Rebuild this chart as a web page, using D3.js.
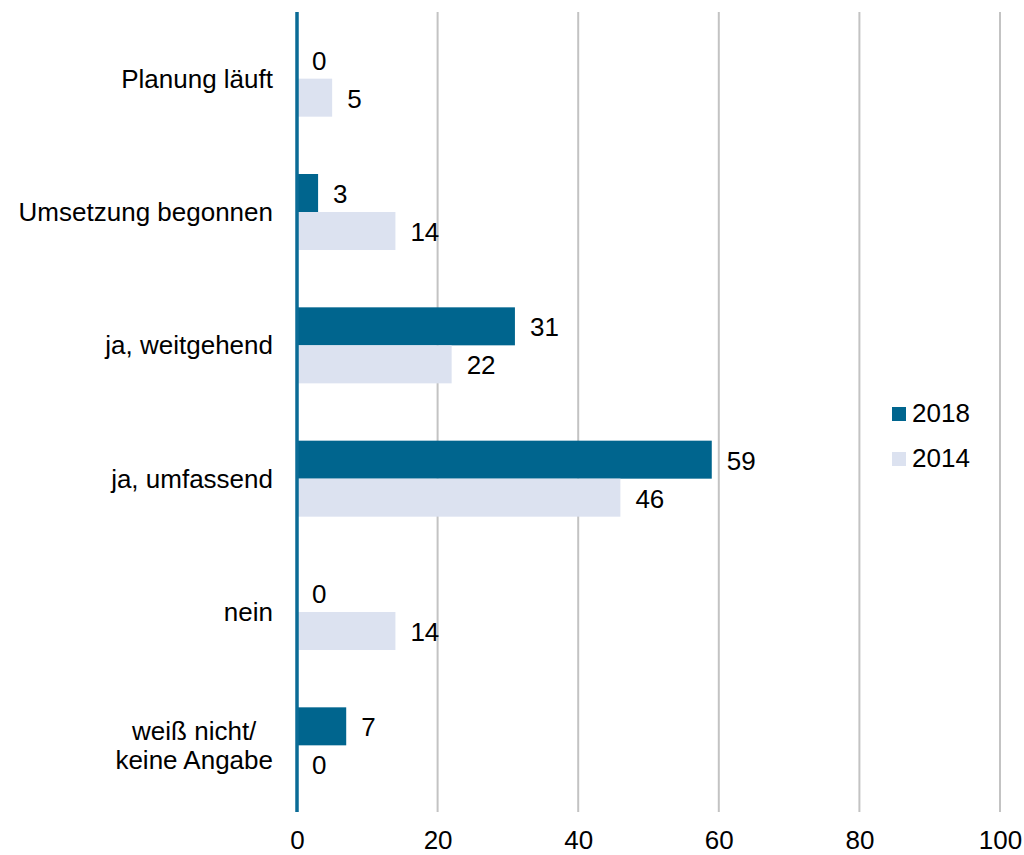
<!DOCTYPE html>
<html>
<head>
<meta charset="utf-8">
<script src="https://cdn.jsdelivr.net/npm/d3@7"></script>
<style>
  html, body { margin: 0; padding: 0; background: #fff; }
  svg { display: block; font-family: "Liberation Sans", Arial, sans-serif; }
</style>
</head>
<body>
<svg id="chart" width="1024" height="855"></svg>
<script>
// Categories, top to bottom
const categories = [
  "Planung läuft",
  "Umsetzung begonnen",
  "ja, weitgehend",
  "ja, umfassend",
  "nein",
  "weiß nicht/\nkeine Angabe"
];
const seriesNames = ["2018", "2014"];
const values2018 = [0, 3, 31, 59, 0, 7];
const values2014 = [5, 14, 22, 46, 14, 0];
const xTicks = [0, 20, 40, 60, 80, 100];

const colors = { "2018": "#00658e", "2014": "#dce2f0" };
const fontSize = 26;

const svg = d3.select("#chart");
const plotTop = 12, plotBottom = 812;

const x = d3.scaleLinear().domain([0, 100]).range([297, 1000]);
const y = d3.scaleBand().domain(categories).range([plotTop, plotBottom])
  .paddingInner(0.43).paddingOuter(0.215);
const ySub = d3.scaleBand().domain(seriesNames).range([0, y.bandwidth()]);

// vertical gridlines
svg.append("g").selectAll("line")
  .data(xTicks.filter(d => d > 0))
  .join("line")
  .attr("x1", d => x(d)).attr("x2", d => x(d))
  .attr("y1", plotTop).attr("y2", plotBottom)
  .attr("stroke", "#c3c3c3").attr("stroke-width", 2);

// x tick labels
const xAxis = d3.axisBottom(x).tickValues(xTicks).tickSize(0).tickPadding(0);
const gx = svg.append("g").attr("transform", `translate(0, ${plotBottom})`).call(xAxis);
gx.select(".domain").remove();
gx.attr("font-size", fontSize).attr("font-family", "Liberation Sans, Arial, sans-serif");
gx.selectAll("text")
  .attr("fill", "#000")
  .attr("dy", null).attr("y", 37);

// bars
const rows = categories.map((c, i) => ({
  cat: c,
  vals: [{ s: "2018", v: values2018[i] }, { s: "2014", v: values2014[i] }]
}));

const groups = svg.append("g").selectAll("g")
  .data(rows).join("g")
  .attr("transform", d => `translate(0, ${y(d.cat)})`);

groups.selectAll("rect")
  .data(d => d.vals.filter(e => e.v > 0))
  .join("rect")
  .attr("x", x(0))
  .attr("y", d => ySub(d.s))
  .attr("width", d => x(d.v) - x(0))
  .attr("height", ySub.bandwidth())
  .attr("fill", d => colors[d.s]);

groups.selectAll("text.val")
  .data(d => d.vals)
  .join("text")
  .attr("class", "val")
  .attr("x", d => x(d.v) + 15)
  .attr("y", d => ySub(d.s) + ySub.bandwidth() / 2 + 10)
  .attr("font-size", fontSize)
  .attr("fill", "#000")
  .text(d => d.v);

// category labels
const catG = svg.append("g");
categories.forEach(c => {
  const lines = c.split("\n");
  const cy = y(c) + y.bandwidth() / 2;
  if (lines.length === 1) {
    catG.append("text")
      .attr("x", 273).attr("y", cy + 9)
      .attr("text-anchor", "end")
      .attr("font-size", fontSize).attr("fill", "#000")
      .text(c);
  } else {
    const t = catG.append("text")
      .attr("font-size", fontSize).attr("fill", "#000")
      .attr("text-anchor", "middle");
    const lineH = 29;
    lines.forEach((ln, i) => {
      t.append("tspan")
        .attr("x", 0)
        .attr("y", cy + 9 + (i - (lines.length - 1) / 2) * lineH)
        .text(ln);
    });
    const bb = t.node().getBBox();
    t.attr("transform", `translate(${273 - bb.width / 2}, 0)`);
  }
});

// y axis line
svg.append("line")
  .attr("x1", x(0)).attr("x2", x(0))
  .attr("y1", plotTop).attr("y2", plotBottom)
  .attr("stroke", "#0a6b96").attr("stroke-width", 3.5);

// legend
const legend = svg.append("g").attr("transform", "translate(892, 407)");
seriesNames.forEach((s, i) => {
  const g = legend.append("g").attr("transform", `translate(0, ${i * 45})`);
  g.append("rect").attr("width", 14).attr("height", 14).attr("fill", colors[s]);
  g.append("text").attr("x", 20).attr("y", 15)
    .attr("font-size", fontSize).attr("fill", "#000").text(s);
});
</script>
</body>
</html>
